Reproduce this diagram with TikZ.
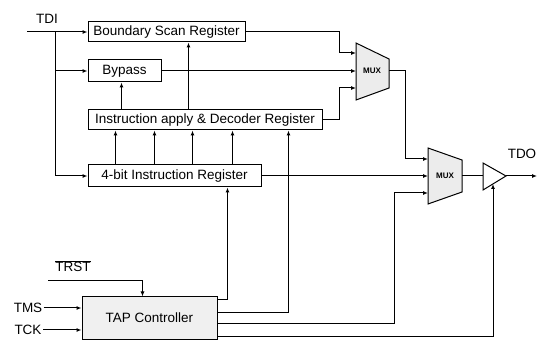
\documentclass[tikz,border=0pt]{standalone}
\usepackage{fontspec}
\setmainfont{Liberation Sans}
\usetikzlibrary{arrows.meta,positioning,calc}

\begin{document}
\begin{tikzpicture}[x=1pt, y=-1pt, >={Latex[length=5pt,width=4pt]}, line width=1pt,
  every node/.style={font=\fontsize{13.5}{15}\selectfont, inner sep=1pt},
  reg/.style={draw, fill=white, minimum height=20pt},
  muxbody/.style={draw, fill=gray!15},
  muxlabel/.style={font=\fontsize{8}{9}\selectfont\bfseries}]
\useasboundingbox (0,0) rectangle (539,342);

% registers
\node[reg, minimum width=157pt] (bsr) at (166.5,32) {Boundary Scan Register};
\node[reg, minimum width=73pt, minimum height=22pt] (byp) at (124.5,71) {Bypass};
\node[reg, minimum width=234pt] (iadr) at (205,120) {Instruction apply \& Decoder Register};
\node[reg, minimum width=173pt, minimum height=22pt] (ir) at (174.5,176) {4-bit Instruction Register};
\node[reg, fill=gray!12, minimum width=135pt, minimum height=42pt] (tap) at (149.5,318) {TAP Controller};

% muxes and output buffer
\draw[muxbody] (356,43) -- (389,59) -- (389,88) -- (356,100) -- cycle;
\node[muxlabel] (mux1) at (372,71) {MUX};
\draw[muxbody] (428,148) -- (462,160) -- (462,192) -- (428,204) -- cycle;
\node[muxlabel] (mux2) at (445,176) {MUX};
\draw (483,163) -- (506,176) -- (483,190) -- cycle;

\coordinate (m1a) at (356,53);
\coordinate (m1b) at (356,71);
\coordinate (m1c) at (356,88);
\coordinate (m1o) at (389,71);
\coordinate (m2a) at (428,159);
\coordinate (m2b) at (428,176);
\coordinate (m2c) at (428,193);
\coordinate (m2o) at (462,176);
\coordinate (bufi) at (483,176);
\coordinate (bufo) at (506,176);
\coordinate (bufe) at (493,184);

% pins
\node (tdi) at (47,19) {TDI};
\node (tdo) at (522,154) {TDO};
\node (trst) at (73,266) {$\overline{\mbox{TRST}}$};
\node (tms) at (28,308) {TMS};
\node (tck) at (28,330) {TCK};
\coordinate (tdiin) at (27,32);
\coordinate (j1) at (55,32);
\coordinate (tdoout) at (537,176);
\coordinate (trstin) at (48,281);

% data path
\draw[->] (tdiin) -- (bsr.west);
\draw[->] (j1) |- (ir.west);
\draw[->] (j1 |- byp.west) -- (byp.west);
\draw[->] (bsr.east) -| ([xshift=-17pt]m1a) -- (m1a);
\draw[->] (byp.east) -- (m1b);
\draw[->] (iadr.east) -| ([xshift=-17pt]m1c) -- (m1c);
\draw[->] (m1o) -| ([xshift=-23pt]m2a) -- (m2a);
\draw[->] (ir.east) -- (m2b);
\draw (m2o) -- (bufi);
\draw[->] (bufo) -- (tdoout);

% decoder controls
\draw[->] ([xshift=34pt]iadr.north west) -- ([xshift=34pt]byp.south west);
\draw[->] ([xshift=101pt]iadr.north west) -- ([xshift=101pt]bsr.south west);
\foreach \dx in {28,67,105,145}
  \draw[->] ([xshift=\dx pt]ir.north west) -- ([xshift=\dx pt]iadr.south west);

% tap controller
\draw[->] (trstin) -| ([xshift=61pt]tap.north west);
\draw[->] (tms.east) -- (tms.east -| tap.west);
\draw[->] (tck.east) -- (tck.east -| tap.west);
\coordinate (t1) at (217,300);
\coordinate (t2) at (217,313);
\coordinate (t3) at (217,324);
\coordinate (t4) at (217,336);
\draw[->] (t1) -| ([xshift=140pt]ir.south west);
\draw[->] (t2) -| ([xshift=201pt]iadr.south west);
\draw[->] (t3) -| ([xshift=-34pt]m2c) -- (m2c);
\draw[->] (t4) -| (bufe);
\end{tikzpicture}
\end{document}
